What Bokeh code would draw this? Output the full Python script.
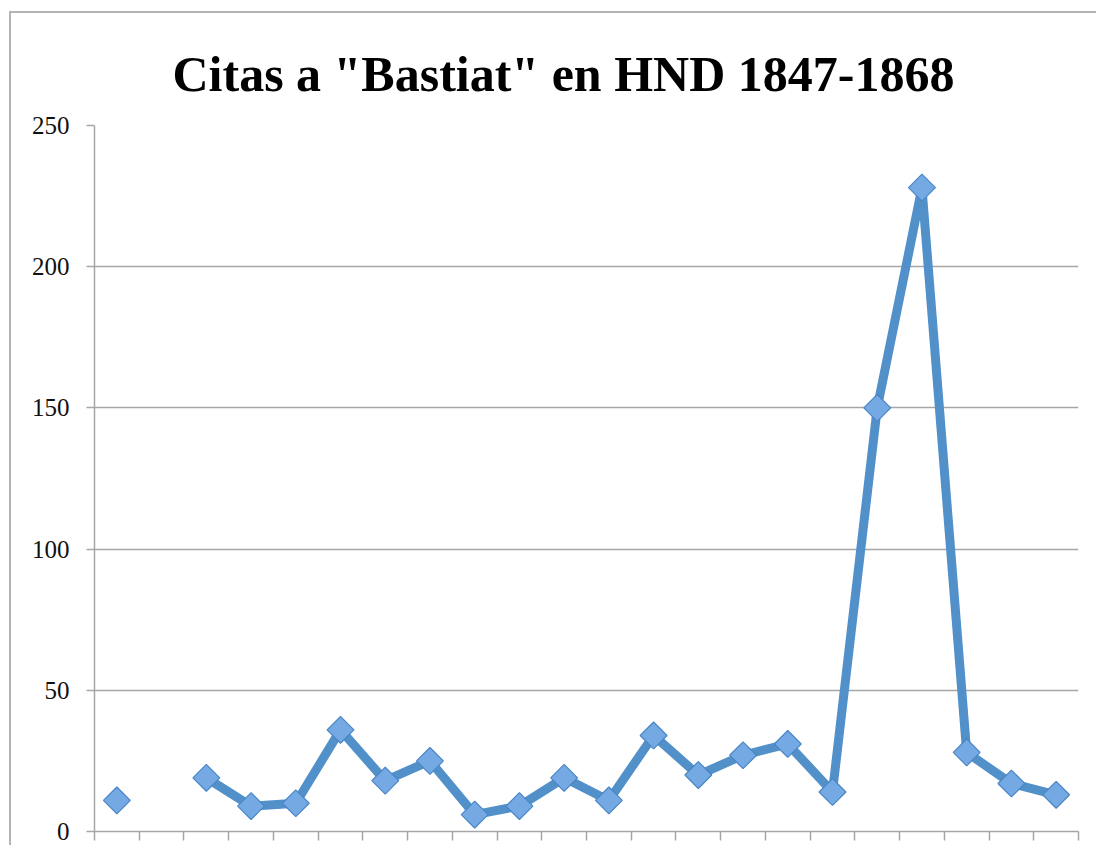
import math
from bokeh.plotting import figure
from bokeh.models import Range1d, FixedTicker, ColumnDataSource
from bokeh.embed import file_html
from bokeh.resources import INLINE

# Data
years = list(range(1847, 1869))
citas = [11, None, 19, 9, 10, 36, 18, 25, 6, 9, 19, 11, 34, 20, 27, 31, 14, 150, 228, 28, 17, 13]
y_ticks = [0, 50, 100, 150, 200, 250]
title_text = 'Citas a "Bastiat" en HND 1847-1868'

n = len(years)
xs = [i + 0.5 for i in range(n)]
ys = [float('nan') if v is None else v for v in citas]

p = figure(
    output_backend="svg", toolbar_location=None,
    frame_width=984, frame_height=706,
    x_range=Range1d(0, n), y_range=Range1d(0, 250),
    min_border_left=83, min_border_top=112, min_border_right=18, min_border_bottom=14,
    title=title_text,
)
p.margin = (11, 0, 0, 9)
p.styles = {"border-top": "2px solid #b4b4b4", "border-left": "2px solid #b4b4b4"}

p.title.text_font = "Liberation Serif"
p.title.text_font_size = "50px"
p.title.text_font_style = "bold"
p.title.align = "left"
p.title.text_color = "#000000"
p.title.offset = 78
p.title.standoff = 47

p.outline_line_color = None
p.background_fill_color = "white"
p.border_fill_color = "white"

# Grid
p.xgrid.grid_line_color = None
p.ygrid.ticker = FixedTicker(ticks=y_ticks)
p.ygrid.grid_line_color = "#a6a6a6"
p.ygrid.grid_line_width = 1.5

# Y axis
p.yaxis.ticker = FixedTicker(ticks=y_ticks)
p.yaxis.axis_line_color = "#a6a6a6"
p.yaxis.axis_line_width = 1.5
p.yaxis.major_tick_line_color = "#a6a6a6"
p.yaxis.major_tick_line_width = 1.5
p.yaxis.major_tick_out = 8
p.yaxis.major_tick_in = 0
p.yaxis.minor_tick_line_color = None
p.yaxis.major_label_text_font = "Liberation Serif"
p.yaxis.major_label_text_font_size = "25px"
p.yaxis.major_label_text_color = "#111111"
p.yaxis.major_label_standoff = 17

# X axis: ticks at category boundaries, no labels
p.xaxis.ticker = FixedTicker(ticks=list(range(n + 1)))
p.xaxis.axis_line_color = "#a6a6a6"
p.xaxis.axis_line_width = 1.5
p.xaxis.major_tick_line_color = "#a6a6a6"
p.xaxis.major_tick_line_width = 1.5
p.xaxis.major_tick_out = 9
p.xaxis.major_tick_in = 0
p.xaxis.minor_tick_line_color = None
p.xaxis.major_label_text_font_size = "0px"
p.xaxis.major_label_text_alpha = 0

src = ColumnDataSource(dict(x=xs, y=ys))
p.line("x", "y", source=src, line_color="#5290c9", line_width=9, line_join="round")
p.scatter("x", "y", source=src, marker="square", size=19, angle=math.pi / 4,
          fill_color="#74a9e4", line_color="#4a86c6", line_width=1.2)

open("out.html", "w").write(file_html(p, INLINE))
